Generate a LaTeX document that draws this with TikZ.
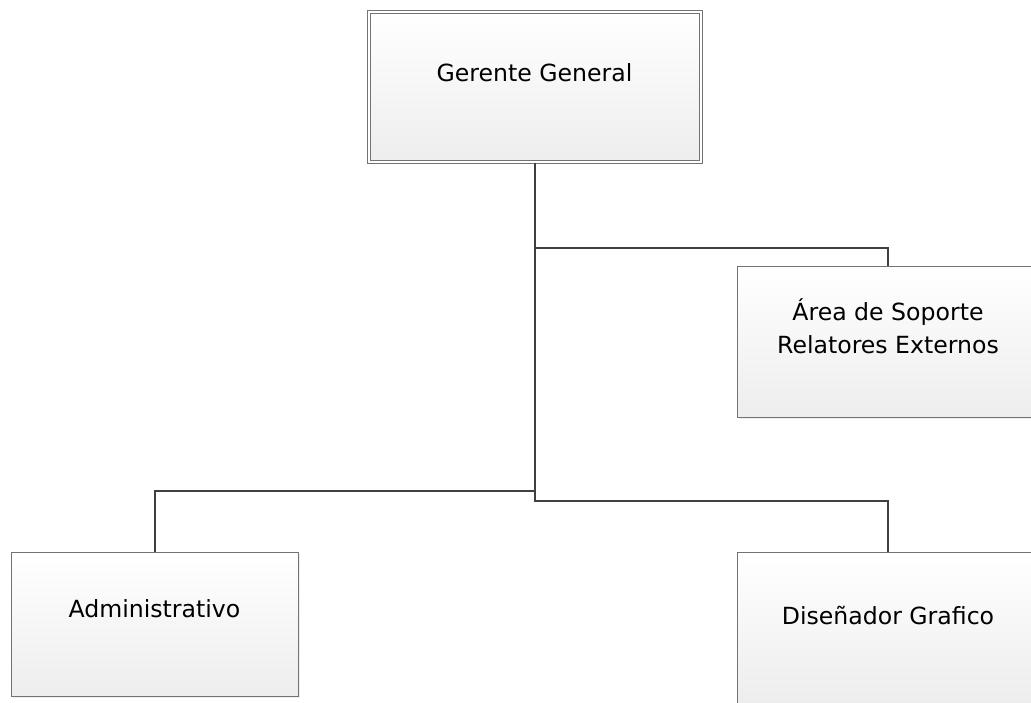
\documentclass[tikz,border=0pt]{standalone}
\usepackage{fontspec}
\setmainfont{DejaVu Sans}
\usetikzlibrary{shadows}
\begin{document}
\begin{tikzpicture}[x=0.5pt,y=-0.5pt, every label/.style={font=\fontsize{11.8}{16.5}\selectfont, align=center, inner sep=0pt}]
	\tikzstyle{Puesto} = [rectangle, inner sep=0pt, draw=black!55, line width=0.5pt, top color=white, bottom color=black!7, drop shadow={shadow xshift=1pt, shadow yshift=-1pt, fill=black!12}]
	\tikzstyle{Jefe} = [Puesto, double=white, double distance=1pt]
	\tikzstyle{link} = [line width=1pt, draw=black!75]
	
	\useasboundingbox (0,0) rectangle (1031,702);
	\clip (0,0) rectangle (1031,702);
	\node (gg) [Jefe, minimum width=166pt, minimum height=75pt, label={[yshift=7pt]center:Gerente General}] at (534.5,87) {};
	\node (area) [Puesto, minimum width=151pt, minimum height=75.5pt, label={[yshift=7.5pt]center:Área de Soporte\\Relatores Externos}] at (888,341.5) {};
	\node (adm) [Puesto, minimum width=143.5pt, minimum height=72pt, label={[yshift=7.5pt]center:Administrativo}] at (154.5,624) {};
	\node (dg) [Puesto, minimum width=151pt, minimum height=75.5pt, label={[yshift=6pt]center:Diseñador Grafico}] at (888,627.5) {};
	\draw [link] (gg.south) -- ++(0,338) -| (dg.north);
	\draw [link] (gg.south) ++(0,85) -| (area.north);
	\draw [link] (gg.south) ++(0,328) -| (adm.north);
\end{tikzpicture}
\end{document}
